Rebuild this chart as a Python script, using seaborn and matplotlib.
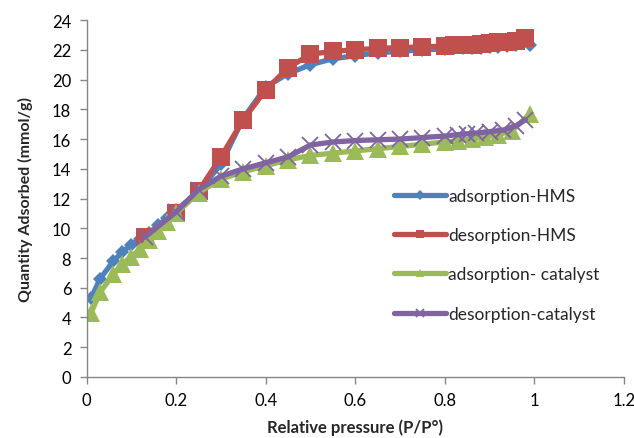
import matplotlib
matplotlib.use("Agg")
import matplotlib.pyplot as plt
import seaborn as sns
import pandas as pd

# ---- data ----
ads_hms_x = [0.01, 0.03, 0.06, 0.08, 0.10, 0.12, 0.14, 0.16, 0.18, 0.20, 0.25, 0.30, 0.35,
             0.40, 0.45, 0.50, 0.55, 0.60, 0.65, 0.70, 0.75, 0.80, 0.82, 0.84, 0.86, 0.88,
             0.90, 0.92, 0.94, 0.96, 0.99]
ads_hms_y = [5.3, 6.6, 7.8, 8.4, 8.9, 9.3, 9.7, 10.2, 10.7, 11.2, 12.5, 14.3, 17.4,
             19.5, 20.4, 21.0, 21.4, 21.6, 21.8, 21.9, 22.0, 22.05, 22.1, 22.1, 22.15, 22.15,
             22.2, 22.2, 22.25, 22.3, 22.35]

des_hms_x = [0.98, 0.96, 0.94, 0.92, 0.90, 0.88, 0.86, 0.84, 0.82, 0.80, 0.75, 0.70, 0.65,
             0.60, 0.55, 0.50, 0.45, 0.40, 0.35, 0.30, 0.25, 0.20, 0.13]
des_hms_y = [22.8, 22.6, 22.55, 22.5, 22.45, 22.4, 22.35, 22.3, 22.3, 22.25, 22.2, 22.15, 22.1,
             22.0, 21.9, 21.7, 20.8, 19.3, 17.3, 14.8, 12.5, 11.0, 9.4]

ads_cat_x = [0.01, 0.03, 0.06, 0.08, 0.10, 0.12, 0.14, 0.16, 0.18, 0.20, 0.25, 0.30, 0.35,
             0.40, 0.45, 0.50, 0.55, 0.60, 0.65, 0.70, 0.75, 0.80, 0.83, 0.86, 0.89, 0.92,
             0.95, 0.99]
ads_cat_y = [4.3, 5.7, 6.9, 7.6, 8.1, 8.6, 9.2, 9.8, 10.4, 11.0, 12.4, 13.3, 13.8,
             14.2, 14.6, 14.9, 15.05, 15.2, 15.35, 15.5, 15.65, 15.8, 15.9, 16.0, 16.15, 16.3,
             16.55, 17.7]

des_cat_x = [0.98, 0.96, 0.93, 0.90, 0.87, 0.85, 0.83, 0.80, 0.75, 0.70, 0.65, 0.60, 0.55,
             0.50, 0.45, 0.40, 0.35, 0.30, 0.25, 0.20, 0.13]
des_cat_y = [17.3, 16.9, 16.6, 16.5, 16.4, 16.35, 16.3, 16.2, 16.1, 16.0, 15.95, 15.9, 15.8,
             15.6, 14.8, 14.4, 14.0, 13.5, 12.6, 11.1, 9.4]

series_names = ["adsorption-HMS", "desorption-HMS", "adsorption- catalyst", "desorption-catalyst"]
x_ticks = [0, 0.2, 0.4, 0.6, 0.8, 1, 1.2]
x_tick_labels = ["0", "0.2", "0.4", "0.6", "0.8", "1", "1.2"]
y_ticks = list(range(0, 25, 2))

# ---- figure ----
sns.set_theme(style="white")
plt.rcParams["font.family"] = ["Lato", "DejaVu Sans"]

fig = plt.figure(figsize=(6.34, 4.39), dpi=100)
ax = fig.add_axes([0.1366, 0.139, 0.8474, 0.813])

colors = ["#4F81BD", "#C0504D", "#9BBB59", "#8064A2"]
markers = ["D", "s", "^", "x"]
msizes = [7, 13.5, 13.5, 11]
data = [(ads_hms_x, ads_hms_y), (des_hms_x, des_hms_y),
        (ads_cat_x, ads_cat_y), (des_cat_x, des_cat_y)]

for (xs, ys), name, c, m, ms in zip(data, series_names, colors, markers, msizes):
    df = pd.DataFrame({"x": xs, "y": ys})
    kw = dict(marker=m, markersize=ms, color=c, linewidth=3.8, sort=False,
              label=name, ax=ax)
    if m == "x":
        kw.update(markeredgewidth=1.3, markeredgecolor=c)
    else:
        kw.update(markeredgewidth=0)
    sns.lineplot(data=df, x="x", y="y", **kw)

ax.set_xlim(0, 1.2)
ax.set_ylim(0, 24)
ax.set_xticks(x_ticks)
ax.set_xticklabels(x_tick_labels)
ax.set_yticks(y_ticks)

for s in ["top", "right"]:
    ax.spines[s].set_visible(False)
for s in ["left", "bottom"]:
    ax.spines[s].set_color("#868686")
    ax.spines[s].set_linewidth(1.0)
ax.tick_params(axis="both", which="major", direction="out", length=5, width=1,
               color="#868686", labelsize=12, labelcolor="black", pad=6,
               left=True, bottom=True)

ax.set_xlabel("Relative pressure (P/P°)", fontsize=12, fontweight="bold", labelpad=7)
ax.set_ylabel("Quantity Adsorbed (mmol/g)", fontsize=11.5, fontweight="bold", labelpad=14)

leg = ax.legend(loc="upper left", bbox_to_anchor=(0.56, 0.55), frameon=False,
                fontsize=12.5, labelspacing=1.35, handlelength=3.0, handletextpad=0.1,
                borderaxespad=0)
for ln, ms in zip(leg.get_lines(), [5, 6, 6, 6]):
    ln.set_markersize(ms)

fig.savefig("out.png", dpi=100)
